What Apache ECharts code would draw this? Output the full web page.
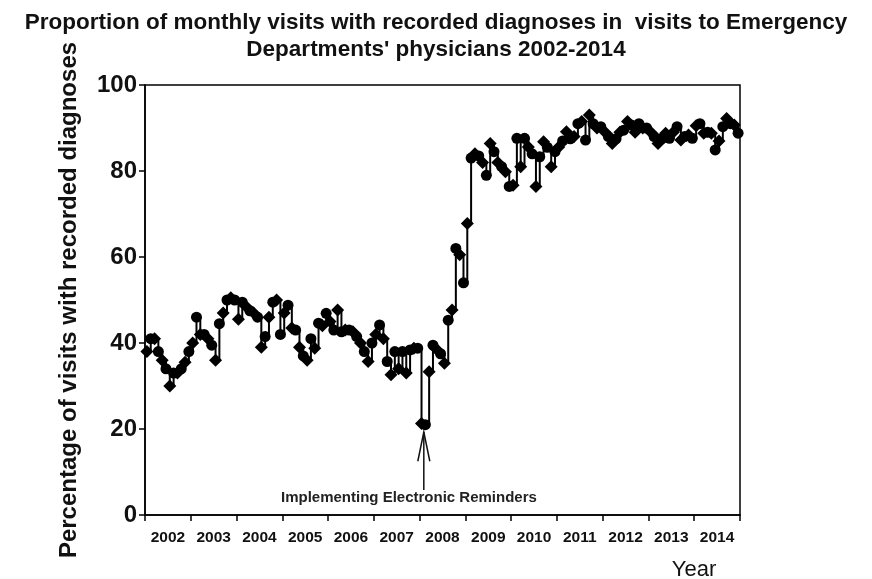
<!DOCTYPE html>
<html>
<head>
<meta charset="utf-8">
<script src="https://cdn.jsdelivr.net/npm/echarts@6/dist/echarts.min.js"></script>
<style>
  html, body { margin: 0; padding: 0; background: #fff; }
  #chart { width: 872px; height: 579px; }
</style>
</head>
<body>
<div id="chart"></div>
<script>
// year labels under the axis
const years = ["2002", "2003", "2004", "2005", "2006", "2007", "2008",
  "2009", "2010", "2011", "2012", "2013", "2014"];

// monthly % of visits with recorded diagnoses, Jan 2002 .. Dec 2014
const pct = [
  38, 41, 41, 38, 36, 34, 30, 33, 33, 34, 35.5, 38,                  // 2002
  40, 46, 42, 42, 41, 39.5, 36, 44.5, 47, 50, 50.5, 50,              // 2003
  45.5, 49.5, 48.5, 47.5, 47, 46, 39, 41.5, 46, 49.5, 50, 42,        // 2004
  47, 48.8, 43.5, 43, 39, 37, 36, 41, 38.8, 44.6, 44, 46.9,          // 2005
  45, 43, 47.7, 42.6, 43, 43, 42.6, 41.5, 40, 38, 35.7, 40,          // 2006
  42, 44.2, 41, 35.7, 32.6, 38, 34, 38, 33, 38.4, 38.8, 38.8,        // 2007
  21.3, 21, 33.3, 39.5, 38.5, 37.5, 35.3, 45.3, 47.7, 62, 60.5, 54,  // 2008
  67.8, 83, 84, 83.5, 82, 79, 86.4, 84.5, 82, 81, 79.8, 76.4,        // 2009
  76.7, 87.6, 81, 87.6, 85.6, 84, 76.4, 83.3, 86.8, 85.5, 81, 84.5,  // 2010
  85.6, 87, 89.1, 87.5, 88, 91, 91.5, 87.2, 93, 91, 90, 90.3,        // 2011
  89.1, 88, 86.4, 87.5, 89, 89.5, 91.5, 90.7, 89, 91, 90, 90,        // 2012
  89.1, 88, 86.4, 87.5, 88.8, 87.6, 89, 90.3, 87.2, 88, 88.4, 87.6,  // 2013
  90.5, 91, 88.8, 89, 88.8, 84.9, 87, 90.3, 92.2, 91, 90.7, 88.8     // 2014
];

const yTicks = [0, 20, 40, 60, 80, 100];
const noteText = "Implementing Electronic Reminders";

const font = "'Liberation Sans', Arial, sans-serif";
const myChart = echarts.init(document.getElementById("chart"));

// month index -> x position (middle of the month)
let points = pct.map((v, i) => [i + 0.5, v]);

let option = {
  animation: false,
  backgroundColor: "#fff",
  title: {
    text: "Proportion of monthly visits with recorded diagnoses in  visits to Emergency\nDepartments' physicians 2002-2014",
    left: "center",
    top: 4,
    textStyle: {
      fontFamily: font,
      fontWeight: "bold",
      fontSize: 22.5,
      lineHeight: 27,
      color: "#111"
    }
  },
  grid: {
    left: 145,
    right: 132,
    top: 85,
    bottom: 64,
    show: true,
    borderColor: "#000",
    borderWidth: 1.5
  },
  xAxis: [
    {
      type: "value",
      position: "bottom",
      min: 0,
      max: pct.length,
      interval: 12,
      axisLine: { show: true, lineStyle: { color: "#000", width: 1.5 } },
      axisTick: { show: true, length: 6, lineStyle: { color: "#000", width: 1.5 } },
      axisLabel: { show: false },
      splitLine: { show: false }
    },
    {
      // only used for the year labels between ticks
      type: "category",
      position: "bottom",
      data: years,
      axisLine: { show: false },
      axisTick: { show: false },
      axisLabel: {
        interval: 0,
        margin: 15,
        fontFamily: font,
        fontWeight: "bold",
        fontSize: 15.5,
        color: "#111"
      },
      splitLine: { show: false }
    }
  ],
  yAxis: {
    type: "value",
    min: yTicks[0],
    max: yTicks[yTicks.length - 1],
    interval: 20,
    name: "Percentage of visits with recorded diagnoses",
    nameLocation: "middle",
    nameRotate: 90,
    nameGap: 64,
    nameTextStyle: {
      fontFamily: font,
      fontWeight: "bold",
      fontSize: 24,
      color: "#111"
    },
    axisLine: { show: true, lineStyle: { color: "#000", width: 1.5 } },
    axisTick: { show: true, length: 6, lineStyle: { color: "#000", width: 1.5 } },
    axisLabel: {
      margin: 8,
      fontFamily: font,
      fontWeight: "bold",
      fontSize: 24,
      color: "#111"
    },
    splitLine: { show: false }
  },
  series: [
    {
      type: "line",
      xAxisIndex: 0,
      step: "end",
      data: points,
      symbol: (val, p) => (p.dataIndex % 2 ? "circle" : "diamond"),
      symbolSize: (val, p) => (p.dataIndex % 2 ? 11 : 13),
      lineStyle: { color: "#000", width: 2 },
      itemStyle: { color: "#000" }
    }
  ]
};

myChart.setOption(option);

// annotation arrow + text, placed from data coords
let tip = myChart.convertToPixel({ xAxisIndex: 0, yAxisIndex: 0 }, [73.1, 19.3]);
let foot = myChart.convertToPixel({ xAxisIndex: 0, yAxisIndex: 0 }, [73.1, 5.8]);
let head = myChart.convertToPixel({ xAxisIndex: 0, yAxisIndex: 0 }, [73.1, 12.5]);
let txt = myChart.convertToPixel({ xAxisIndex: 0, yAxisIndex: 0 }, [69.2, 4]);

myChart.setOption({
  graphic: [
    {
      type: "line",
      shape: { x1: tip[0], y1: tip[1], x2: foot[0], y2: foot[1] },
      style: { stroke: "#111", lineWidth: 1.5 }
    },
    {
      type: "polyline",
      shape: { points: [[head[0] - 6, head[1]], [tip[0], tip[1]], [head[0] + 6, head[1]]] },
      style: { stroke: "#111", lineWidth: 1.5, fill: "none" }
    },
    {
      type: "text",
      x: txt[0],
      y: txt[1],
      style: {
        text: noteText,
        fontFamily: font,
        fontWeight: "bold",
        fontSize: 15,
        fill: "#222",
        align: "center",
        verticalAlign: "middle"
      }
    },
    {
      type: "text",
      x: 694,
      y: 570,
      style: {
        text: "Year",
        fontFamily: font,
        fontSize: 22,
        fill: "#111",
        align: "center",
        verticalAlign: "middle"
      }
    }
  ]
});

window.addEventListener("resize", () => {
  myChart.resize();
});
</script>
</body>
</html>
